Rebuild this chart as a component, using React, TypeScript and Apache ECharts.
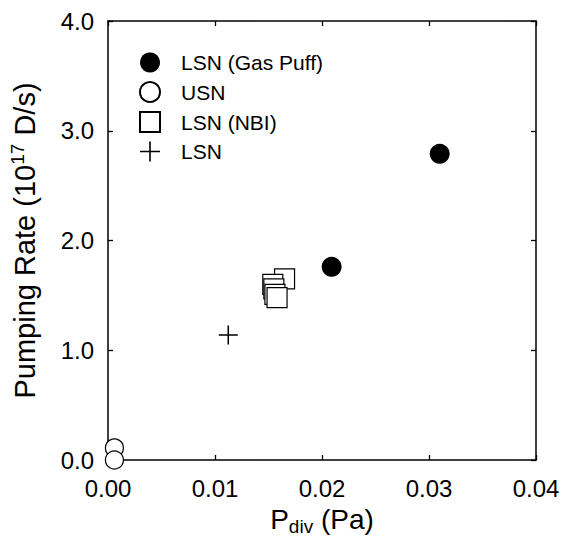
import React, { useEffect, useRef } from "react";
import * as echarts from "echarts";

const gasPuff: [number, number][] = [
  [0.0209, 1.76],
  [0.031, 2.79],
];
const usn: [number, number][] = [
  [0.0006, 0.11],
  [0.0006, 0.0],
];
const nbi: [number, number][] = [
  [0.0165, 1.65],
  [0.0154, 1.6],
  [0.0155, 1.56],
  [0.0156, 1.51],
  [0.0158, 1.48],
];
const lsn: [number, number][] = [[0.01124, 1.14]];

const xTicks = [0, 0.01, 0.02, 0.03, 0.04];
const yTicks = [0, 1, 2, 3, 4];

const FONT = "'Liberation Sans', Arial, Helvetica, sans-serif";
const PLUS = "path://M9.2,0H10.8V9.2H20V10.8H10.8V20H9.2V10.8H0V9.2H9.2Z";
const SQUARE = "path://M0,0H20V20H0Z";

export default function App() {
  const ref = useRef<HTMLDivElement>(null);
  useEffect(() => {
    if (!ref.current) return;
    const chart = echarts.init(ref.current, null, { renderer: "svg" });
    const xMin = xTicks[0];
    const xMax = xTicks[xTicks.length - 1];
    const yMin = yTicks[0];
    const yMax = yTicks[yTicks.length - 1];
    const axisCommon = {
      axisLine: { show: true, onZero: false, lineStyle: { color: "#000", width: 1.5 } },
      axisTick: { show: true, inside: true, length: 5, lineStyle: { color: "#000", width: 1.3 } },
      splitLine: { show: false },
    };
    chart.setOption({
      animation: false,
      backgroundColor: "#fff",
      grid: { left: 102, top: 21, right: 28, bottom: 86, containLabel: false },
      legend: {
        orient: "vertical",
        left: 134,
        top: 47,
        itemWidth: 52,
        itemHeight: 20,
        itemGap: 8,
        textStyle: { fontFamily: FONT, fontSize: 21, lineHeight: 20, color: "#000" },
        data: [
          { name: "LSN (Gas Puff)", icon: "circle" },
          { name: "USN", icon: "circle" },
          { name: "LSN (NBI)", icon: SQUARE },
          { name: "LSN", icon: PLUS },
        ],
      },
      xAxis: [
        {
          type: "value",
          min: xMin,
          max: xMax,
          interval: 0.01,
          position: "bottom",
          ...axisCommon,
          axisLabel: {
            fontFamily: FONT,
            fontSize: 24,
            color: "#000",
            margin: 16,
            formatter: (v: number) => v.toFixed(2),
          },
          name: "P{sub|div} (Pa)",
          nameLocation: "middle",
          nameGap: 42,
          nameTextStyle: {
            fontFamily: FONT,
            fontSize: 28,
            color: "#000",
            rich: {
              sub: { fontFamily: FONT, fontSize: 19, color: "#000", padding: [15, 0, 0, 0] },
            },
          },
        },
        {
          type: "value",
          min: xMin,
          max: xMax,
          interval: 0.01,
          position: "top",
          ...axisCommon,
          axisLabel: { show: false },
        },
      ],
      yAxis: [
        {
          type: "value",
          min: yMin,
          max: yMax,
          interval: 1,
          position: "left",
          ...axisCommon,
          axisLabel: {
            fontFamily: FONT,
            fontSize: 24,
            color: "#000",
            margin: 14,
            formatter: (v: number) => v.toFixed(1),
          },
          name: "Pumping Rate (10{sup|17} D/s)",
          nameLocation: "middle",
          nameGap: 66,
          nameTextStyle: {
            fontFamily: FONT,
            fontSize: 29,
            color: "#000",
            rich: {
              sup: { fontFamily: FONT, fontSize: 19, color: "#000", padding: [0, 0, 15, 0] },
            },
          },
        },
        {
          type: "value",
          min: yMin,
          max: yMax,
          interval: 1,
          position: "right",
          ...axisCommon,
          axisLabel: { show: false },
        },
      ],
      series: [
        {
          name: "LSN (Gas Puff)",
          type: "scatter",
          data: gasPuff,
          symbol: "circle",
          symbolSize: 20,
          itemStyle: { color: "#000", opacity: 1 },
          z: 5,
        },
        {
          name: "USN",
          type: "scatter",
          data: usn,
          symbol: "circle",
          symbolSize: 18,
          itemStyle: { color: "#fff", borderColor: "#000", borderWidth: 1.2, opacity: 1 },
          z: 5,
        },
        {
          name: "LSN (NBI)",
          type: "scatter",
          data: nbi,
          symbol: SQUARE,
          symbolSize: 20,
          itemStyle: { color: "#fff", borderColor: "#000", borderWidth: 1.2, opacity: 1 },
          z: 5,
        },
        {
          name: "LSN",
          type: "scatter",
          data: lsn,
          symbol: PLUS,
          symbolSize: 19,
          itemStyle: { color: "#000", opacity: 1 },
          z: 5,
        },
      ],
    });
    return () => chart.dispose();
  }, []);
  return <div ref={ref} style={{ width: 564, height: 546, position: "absolute", left: 0, top: 0 }} />;
}
